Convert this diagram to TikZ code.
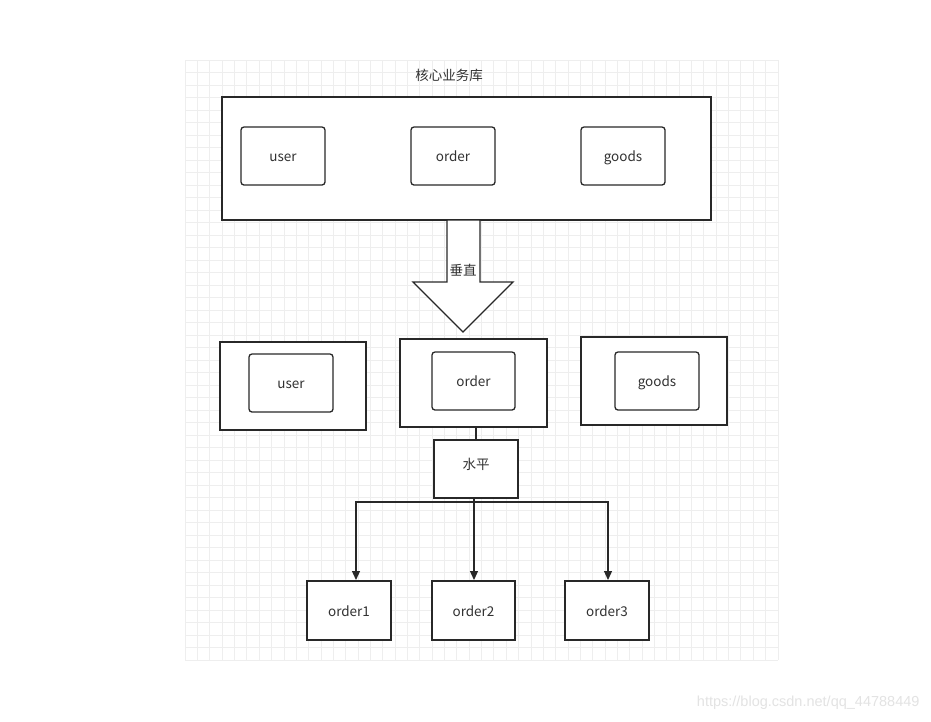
\documentclass[tikz,border=0pt]{standalone}
\usepackage{fontspec}
\setmainfont{Noto Sans CJK SC}
\newfontfamily\wmfont{Liberation Sans}
\usetikzlibrary{arrows.meta}
\definecolor{gridc}{RGB}{238,238,238}
\definecolor{linec}{RGB}{40,40,40}
\definecolor{textc}{RGB}{50,50,50}
\tikzset{
  lbl/.style={text=textc, font=\fontsize{13.5}{15}\selectfont, text height=12pt, text depth=1pt},
  box/.style={draw=linec, line width=1.3pt, fill=white, inner sep=0pt, lbl},
  rbox/.style={box, rounded corners=3pt},
  conn/.style={draw=linec, line width=1.2pt},
  arr/.style={conn, -{Triangle[length=9pt,width=8pt]}},
}
\begin{document}
\begin{tikzpicture}[x=1pt,y=-1pt]
\useasboundingbox (0,0) rectangle (931,721);
\fill[white] (0,0) rectangle (931,721);
% grid
\foreach \i in {0,...,48} {
  \draw[gridc, line width=0.6pt] ({185+12.35*\i},60) -- ({185+12.35*\i},660);
  \draw[gridc, line width=0.6pt] (185,{60+12.5*\i}) -- (778,{60+12.5*\i});
}
% title
\node[lbl] (title) at (449,75) {核心业务库};
% outer box top
\node[box, minimum width=489pt, minimum height=123pt] (core) at (466.5,158.5) {};
\node[rbox, minimum width=84pt, minimum height=58pt] (u1) at (283,156) {user};
\node[rbox, minimum width=84pt, minimum height=58pt] (o1) at (453,156) {order};
\node[rbox, minimum width=84pt, minimum height=58pt] (g1) at (623,156) {goods};
% block arrow
\draw[draw=linec, line width=1.3pt, fill=white]
  (447,220) -- (480,220) -- (480,282) -- (513,282) -- (463,332) -- (413,282) -- (447,282) -- cycle;
\node[lbl] (vlabel) at (463,270) {垂直};
% middle row
\node[box, minimum width=146pt, minimum height=88pt] (ub) at (293,386) {};
\node[rbox, minimum width=84pt, minimum height=58pt] (u2) at (291,383) {user};
\node[box, minimum width=147pt, minimum height=88pt] (ob) at (473.5,383) {};
\node[rbox, minimum width=83pt, minimum height=58pt] (o2) at (473.5,381) {order};
\node[box, minimum width=146pt, minimum height=88pt] (gb) at (654,381) {};
\node[rbox, minimum width=84pt, minimum height=58pt] (g2) at (657,381) {goods};
% horizontal split
\node[box, minimum width=84pt, minimum height=58pt] (hz) at (476,469) {};
\node[lbl] (hzl) at (476,464) {水平};
\draw[conn] (ob.south -| hz.north) -- (hz.north);
% leaves
\node[box, minimum width=84pt, minimum height=59pt] (l1) at (349,610.5) {order1};
\node[box, minimum width=83pt, minimum height=59pt] (l2) at (473.5,610.5) {order2};
\node[box, minimum width=84pt, minimum height=59pt] (l3) at (607,610.5) {order3};
\coordinate (split) at (474,502);
\draw[conn] (474,498) -- (split);
\draw[arr] (split) -- (356,502) -- (356,580);
\draw[arr] (split) -- (474,580);
\draw[arr] (split) -- (608,502) -- (608,580);
% watermark
\node[text=gray!22, font=\fontsize{14.5}{16}\selectfont\wmfont, anchor=east] (wm) at (923,703) {https://blog.csdn.net/qq\_44788449};
\end{tikzpicture}
\end{document}
